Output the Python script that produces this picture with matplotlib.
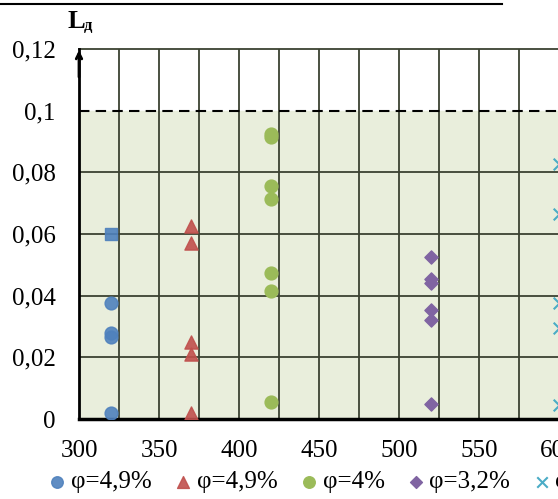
import matplotlib
matplotlib.use('Agg')
from matplotlib import pyplot as plt
from matplotlib.lines import Line2D

plt.rcParams['font.family'] = ['Liberation Serif', 'DejaVu Serif']

# data
x_blue = [320, 320, 320, 320]
y_blue = [0.0375, 0.028, 0.0265, 0.002]
x_square = [320]
y_square = [0.060]
x_red = [370, 370, 370, 370, 370]
y_red = [0.0625, 0.057, 0.025, 0.021, 0.002]
x_green = [420, 420, 420, 420, 420, 420, 420]
y_green = [0.0925, 0.0915, 0.0755, 0.0715, 0.0475, 0.0415, 0.0055]
x_purple = [520, 520, 520, 520, 520, 520]
y_purple = [0.0525, 0.0455, 0.044, 0.0355, 0.032, 0.005]
x_cyan = [600, 600, 600, 600, 600]
y_cyan = [0.0826, 0.0665, 0.0377, 0.0294, 0.0045]

labels = ['φ=4,9%', 'φ=4,9%', 'φ=4%', 'φ=3,2%', 'φ=2,5%']
yticks = [0, 0.02, 0.04, 0.06, 0.08, 0.1, 0.12]
ytick_labels = ['0', '0,02', '0,04', '0,06', '0,08', '0,1', '0,12']
xticks = [300, 350, 400, 450, 500, 550, 600]

fig = plt.figure(figsize=(5.58, 4.99), dpi=100)
# axes runs past the right edge, like the cropped original
ax = fig.add_axes([79/558, (499-419)/499, 560/558, (419-49)/499])
ax.set_xlim(300, 650)
ax.set_ylim(0, 0.12)

grid_c = '#3c4232'
ax.axhspan(0, 0.1, color='#e9eedc', zorder=0)
for gx in range(325, 650, 25):
    ax.axvline(gx, color=grid_c, lw=1.3, zorder=1)
for gy in [0.02, 0.04, 0.06, 0.08]:
    ax.axhline(gy, color=grid_c, lw=1.3, zorder=1)
ax.axhline(0.12, color=grid_c, lw=1.3, zorder=1, clip_on=False)
ax.axhline(0.1, color='black', lw=1.5, ls=(0, (5, 3)), zorder=2)

ax.scatter(x_blue, y_blue, marker='o', s=85, color='#4f81bd', alpha=0.9, zorder=3, label=labels[0])
ax.scatter(x_square, y_square, marker='s', s=80, color='#4f81bd', alpha=0.9, zorder=3)
ax.scatter(x_red, y_red, marker='^', s=90, color='#c0504d', alpha=0.9, zorder=3, label=labels[1])
ax.scatter(x_green, y_green, marker='o', s=85, color='#9bbb59', zorder=3, label=labels[2])
ax.scatter(x_purple, y_purple, marker='D', s=45, color='#8064a2', zorder=3, label=labels[3])
ax.scatter(x_cyan, y_cyan, marker='x', s=70, color='#4bacc6', lw=1.5, zorder=3, label=labels[4])

ax.spines['top'].set_visible(False)
ax.spines['right'].set_visible(False)
ax.spines['left'].set_linewidth(2)
ax.spines['bottom'].set_linewidth(2.5)
ax.set_yticks(yticks)
ax.set_yticklabels(ytick_labels)
ax.set_xticks(xticks)
ax.tick_params(axis='both', length=0, labelsize=18, colors='black')
ax.tick_params(axis='y', pad=17)
ax.tick_params(axis='x', pad=15)

# arrow on the y axis
ax.annotate('', xy=(300, 0.1205), xytext=(300, 0.11),
            arrowprops=dict(arrowstyle='->', lw=2, color='black'), annotation_clip=False)

fig.text(67/558, 1 - 21/499, 'L', fontsize=19, fontweight='bold', va='center', ha='left')
fig.text(84/558, 1 - 26/499, 'д', fontsize=12, fontweight='bold', va='center', ha='left')

fig.add_artist(Line2D([0, 502/558], [1 - 4/499, 1 - 4/499], color='black', lw=1.5))

fig.legend(loc='center left', bbox_to_anchor=(26/558, 1 - 482/499), ncol=5, frameon=False,
           fontsize=18, handletextpad=0.2, handlelength=0.7, columnspacing=0.9,
           markerscale=0.9)

fig.savefig('out.png', dpi=100)
